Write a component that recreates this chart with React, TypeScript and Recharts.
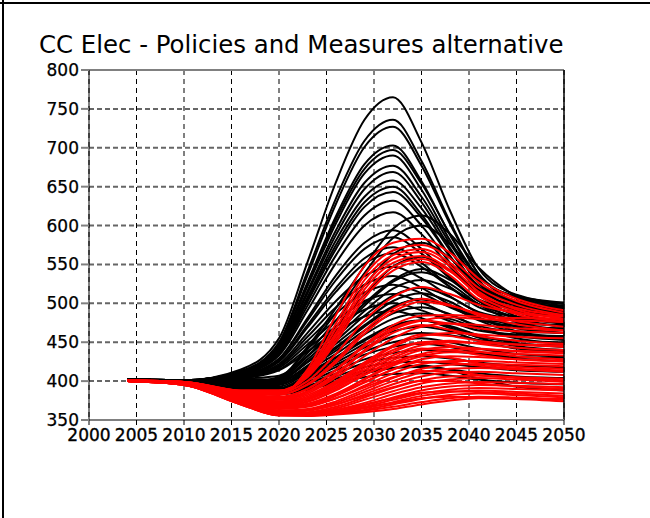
import React from 'react';
import { LineChart, Line, XAxis, YAxis, CartesianGrid, ReferenceLine } from 'recharts';

const years = [2004, 2010, 2016, 2020, 2023, 2026, 2029, 2032, 2035, 2038, 2041, 2045, 2050];
const xTicks = [2000, 2005, 2010, 2015, 2020, 2025, 2030, 2035, 2040, 2045, 2050];
const yTicks = [350, 400, 450, 500, 550, 600, 650, 700, 750, 800];
const titleText = 'CC Elec - Policies and Measures alternative';

// black runs
const blackRuns: number[][] = [
  [402, 401, 415, 455, 553, 656, 736, 765, 707, 619, 545, 511, 500],
  [402, 401, 413, 450, 541, 635, 709, 736, 683, 605, 538, 507, 497],
  [402, 400, 411, 447, 536, 628, 701, 727, 677, 602, 538, 508, 499],
  [402, 401, 412, 445, 527, 612, 679, 703, 657, 588, 530, 502, 494],
  [402, 401, 412, 445, 525, 608, 673, 697, 654, 589, 534, 509, 501],
  [402, 401, 412, 444, 522, 603, 667, 690, 646, 581, 526, 500, 492],
  [402, 400, 411, 442, 516, 594, 655, 677, 637, 577, 527, 503, 496],
  [402, 401, 411, 440, 513, 588, 647, 669, 630, 571, 520, 497, 490],
  [402, 401, 410, 439, 508, 581, 637, 658, 622, 568, 522, 501, 494],
  [402, 400, 410, 438, 505, 575, 630, 650, 614, 561, 516, 494, 488],
  [402, 401, 410, 436, 502, 570, 624, 643, 610, 560, 518, 498, 492],
  [402, 401, 409, 435, 497, 562, 613, 632, 600, 552, 511, 492, 486],
  [402, 400, 409, 433, 491, 552, 600, 617, 589, 547, 512, 495, 490],
  [402, 401, 408, 429, 481, 536, 578, 594, 570, 534, 503, 488, 484],
  [402, 401, 407, 428, 478, 530, 570, 585, 564, 532, 505, 493, 489],
  [402, 400, 407, 426, 472, 520, 558, 572, 552, 521, 495, 483, 479],
  [402, 401, 407, 425, 469, 515, 551, 564, 547, 521, 499, 489, 486],
  [402, 401, 406, 422, 462, 503, 535, 547, 532, 509, 489, 480, 477],
  [402, 400, 405, 420, 457, 495, 524, 535, 520, 498, 479, 471, 468],
  [402, 401, 405, 419, 452, 487, 514, 524, 513, 495, 481, 474, 472],
  [402, 401, 404, 417, 447, 478, 503, 512, 501, 485, 471, 464, 462],
  [402, 400, 404, 415, 442, 470, 492, 500, 491, 477, 465, 460, 458],
  [402, 401, 404, 414, 438, 463, 483, 490, 481, 468, 457, 452, 450],
  [402, 401, 403, 407, 432, 465, 500, 530, 544, 530, 503, 480, 470],
  [402, 401, 402, 402, 424, 452, 484, 510, 520, 508, 488, 470, 462],
  [402, 401, 401, 400, 418, 442, 470, 494, 506, 496, 478, 462, 455],
  [402, 400, 400, 397, 410, 430, 452, 470, 478, 470, 456, 445, 440],
  [402, 401, 398, 405, 444, 494, 548, 596, 613, 589, 546, 509, 492],
  [402, 401, 398, 404, 441, 488, 539, 584, 600, 576, 535, 499, 482],
  [402, 400, 397, 403, 436, 478, 523, 563, 578, 558, 522, 490, 476],
  [402, 401, 397, 402, 432, 470, 511, 547, 560, 542, 511, 483, 470],
  [402, 401, 396, 400, 428, 461, 497, 528, 540, 525, 499, 476, 466],
  [402, 400, 396, 400, 425, 456, 490, 519, 530, 519, 499, 482, 474],
  [402, 401, 395, 398, 420, 448, 477, 503, 513, 502, 482, 464, 456],
  [402, 401, 395, 398, 419, 444, 472, 496, 505, 497, 481, 468, 462],
  [402, 400, 394, 396, 416, 439, 465, 487, 495, 486, 469, 455, 448],
  [402, 401, 394, 395, 414, 435, 460, 480, 487, 480, 468, 458, 453],
  [402, 401, 393, 393, 411, 431, 454, 472, 478, 471, 459, 449, 444],
  [402, 400, 392, 391, 408, 427, 448, 464, 470, 464, 452, 442, 438],
  [402, 401, 392, 390, 406, 424, 443, 457, 462, 459, 453, 448, 446],
  [402, 401, 391, 389, 404, 421, 438, 450, 455, 450, 442, 435, 432],
  [402, 400, 390, 388, 402, 418, 434, 444, 448, 444, 436, 429, 426],
  [402, 401, 390, 387, 399, 414, 428, 436, 440, 438, 435, 431, 430],
  [402, 401, 389, 386, 397, 410, 423, 430, 432, 429, 424, 420, 418],
  [402, 400, 388, 385, 394, 406, 418, 424, 425, 422, 418, 414, 412],
  [402, 401, 388, 384, 392, 403, 413, 417, 418, 415, 410, 406, 404],
  [402, 401, 387, 383, 389, 398, 405, 409, 410, 407, 402, 398, 396],
  [402, 400, 387, 383, 390, 400, 410, 417, 420, 414, 403, 393, 388],
];

// red runs
const redRuns: number[][] = [
  [401, 399, 387, 383, 415, 485, 548, 578, 583, 565, 532, 506, 491],
  [401, 399, 386, 384, 412, 474, 536, 568, 575, 558, 527, 503, 488],
  [401, 399, 387, 385, 410, 468, 530, 562, 570, 552, 520, 498, 485],
  [400, 398, 386, 386, 408, 462, 523, 557, 566, 548, 515, 492, 480],
  [400, 398, 387, 387, 407, 458, 518, 552, 561, 543, 510, 489, 478],
  [400, 399, 388, 388, 406, 454, 512, 547, 557, 541, 512, 494, 484],
  [401, 399, 388, 388, 405, 450, 507, 542, 553, 536, 505, 486, 476],
  [400, 398, 386, 385, 400, 435, 478, 508, 521, 512, 498, 488, 483],
  [400, 398, 385, 382, 396, 427, 465, 493, 506, 498, 485, 473, 465],
  [400, 398, 386, 383, 395, 424, 461, 489, 502, 497, 487, 477, 470],
  [400, 398, 384, 380, 390, 415, 447, 472, 484, 485, 483, 481, 480],
  [400, 398, 383, 378, 387, 410, 440, 466, 478, 482, 480, 478, 476],
  [400, 398, 383, 376, 384, 405, 432, 455, 470, 474, 472, 468, 465],
  [400, 397, 381, 373, 380, 398, 422, 444, 458, 462, 460, 457, 455],
  [401, 398, 382, 374, 382, 400, 424, 446, 460, 458, 452, 447, 444],
  [400, 397, 380, 371, 377, 393, 414, 433, 446, 450, 449, 447, 446],
  [400, 397, 379, 369, 374, 389, 408, 427, 440, 444, 442, 438, 436],
  [401, 397, 380, 370, 376, 391, 411, 430, 442, 440, 434, 428, 425],
  [400, 397, 378, 367, 371, 384, 402, 420, 432, 437, 437, 435, 433],
  [400, 397, 377, 366, 369, 381, 398, 415, 428, 432, 431, 428, 426],
  [400, 396, 376, 364, 367, 378, 394, 410, 422, 426, 426, 424, 422],
  [401, 397, 378, 366, 370, 382, 399, 415, 425, 424, 420, 416, 414],
  [400, 396, 375, 362, 364, 374, 389, 404, 416, 421, 422, 421, 419],
  [400, 396, 375, 362, 363, 372, 386, 400, 411, 416, 417, 415, 412],
  [400, 396, 374, 360, 362, 370, 383, 396, 406, 411, 412, 410, 408],
  [401, 397, 377, 365, 368, 378, 392, 405, 413, 412, 408, 404, 401],
  [400, 396, 373, 359, 360, 367, 379, 391, 401, 406, 407, 405, 403],
  [400, 396, 373, 359, 359, 365, 376, 387, 397, 402, 404, 402, 399],
  [400, 396, 372, 358, 358, 363, 372, 383, 392, 397, 399, 398, 396],
  [401, 396, 375, 362, 363, 370, 381, 392, 400, 400, 397, 393, 390],
  [400, 395, 372, 357, 357, 361, 369, 379, 388, 393, 395, 394, 392],
  [400, 395, 371, 357, 357, 360, 367, 376, 384, 389, 391, 390, 388],
  [400, 395, 371, 356, 356, 359, 365, 373, 381, 386, 388, 386, 384],
  [401, 396, 373, 359, 359, 363, 370, 378, 385, 387, 386, 384, 381],
  [400, 395, 370, 356, 356, 358, 363, 370, 377, 382, 384, 382, 379],
  [400, 395, 370, 356, 356, 358, 362, 367, 373, 378, 380, 379, 376],
  [400, 395, 370, 356, 355, 357, 360, 364, 370, 375, 378, 377, 374],
  [401, 396, 372, 358, 358, 361, 366, 372, 378, 380, 379, 378, 377],
  [400, 398, 381, 372, 378, 394, 417, 437, 449, 446, 438, 432, 428],
  [400, 397, 379, 368, 373, 388, 408, 424, 434, 430, 423, 418, 416],
  [401, 398, 382, 376, 386, 408, 438, 462, 472, 466, 458, 452, 448],
  [400, 398, 384, 379, 390, 414, 445, 468, 478, 474, 468, 464, 462],
  [400, 397, 380, 371, 378, 396, 420, 440, 450, 452, 448, 443, 440],
  [400, 397, 377, 366, 370, 383, 403, 422, 435, 440, 441, 439, 437],
];

const data = years.map((year, i) => {
  const row: Record<string, number> = { year };
  blackRuns.forEach((s, j) => { row['b' + j] = s[i]; });
  redRuns.forEach((s, j) => { row['r' + j] = s[i]; });
  return row;
});

const FONT = 'DejaVu Sans, sans-serif';
const xTickStyle = { fill: '#000', stroke: '#000', strokeWidth: 0.35, fontSize: 17, fontFamily: FONT };
const yTickStyle = { fill: '#000', stroke: '#000', strokeWidth: 0.25, fontSize: 17, fontFamily: FONT };

export default function App() {
  return (
    <div style={{ position: 'absolute', left: 0, top: 0, width: 650, height: 518, background: '#fff', overflow: 'hidden' }}>
      <div style={{ position: 'absolute', left: 0, top: 2, width: 650, height: 2, background: '#000' }} />
      <div style={{ position: 'absolute', left: 2, top: 0, width: 2, height: 518, background: '#000' }} />
      <div style={{ position: 'absolute', left: 39, top: 33, fontFamily: FONT, fontSize: 24.4, lineHeight: '24px', color: '#000', whiteSpace: 'nowrap' }}>
        {titleText}
      </div>
      <div style={{ position: 'absolute', left: 0, top: 0 }}>
        <LineChart width={650} height={518} data={data} margin={{ top: 70, right: 86, bottom: 68, left: 0 }}>
          <CartesianGrid vertical={false} stroke="#666" strokeWidth={2} strokeDasharray="5 3" />
          <CartesianGrid horizontal={false} stroke="#000" strokeWidth={1} strokeDasharray="5 4" />
          <XAxis
            dataKey="year"
            type="number"
            domain={[2000, 2050]}
            ticks={xTicks}
            interval={0}
            tick={xTickStyle}
            tickSize={5}
            tickMargin={3.5}
            height={30}
            axisLine={{ stroke: '#808080', strokeWidth: 2 }}
            tickLine={{ stroke: '#000', strokeWidth: 1 }}
            allowDecimals={false}
          />
          <YAxis
            type="number"
            domain={[350, 800]}
            ticks={yTicks}
            interval={0}
            width={89}
            tick={yTickStyle}
            tickSize={8}
            tickMargin={2}
            axisLine={{ stroke: '#000', strokeWidth: 1 }}
            tickLine={{ stroke: '#808080', strokeWidth: 2 }}
          />
          {blackRuns.map((_, j) => (
            <Line key={'b' + j} dataKey={'b' + j} type="monotone" stroke="#000" strokeWidth={2} dot={false} isAnimationActive={false} />
          ))}
          {redRuns.map((_, j) => (
            <Line key={'r' + j} dataKey={'r' + j} type="monotone" stroke="#ff0000" strokeWidth={2} dot={false} isAnimationActive={false} />
          ))}
          <ReferenceLine y={800} stroke="#808080" strokeWidth={2} />
          <ReferenceLine x={2050} stroke="#000" strokeWidth={1.5} />
        </LineChart>
      </div>
    </div>
  );
}
